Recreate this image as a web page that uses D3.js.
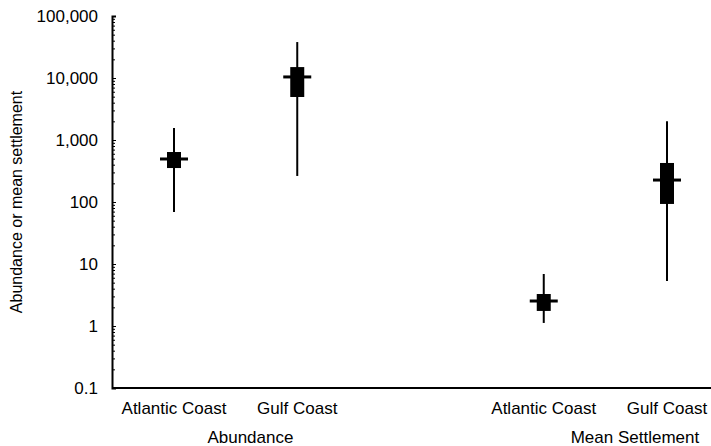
<!DOCTYPE html>
<html>
<head>
<meta charset="utf-8">
<script src="https://cdn.jsdelivr.net/npm/d3@7"></script>
<style>
  body { margin: 0; background: white; }
  text { font-family: "Liberation Sans", Arial, sans-serif; fill: black; }
</style>
</head>
<body>
<div id="chart"></div>
<script>
// Data
const slots = ["abund-atl", "abund-gulf", "gap", "settle-atl", "settle-gulf"];
const categories = ["Atlantic Coast", "Gulf Coast", "Atlantic Coast", "Gulf Coast"];
const categorySlots = ["abund-atl", "abund-gulf", "settle-atl", "settle-gulf"];
const groupNames = ["Abundance", "Mean Settlement"];
const lowValues = [69, 263, 1.12, 5.3];
const q1Values = [353, 4940, 1.75, 93];
const medianValues = [494, 10400, 2.53, 226];
const q3Values = [640, 15000, 3.28, 426];
const highValues = [1560, 38000, 6.9, 2000];
const tickValues = [0.1, 1, 10, 100, 1000, 10000, 100000];

const width = 711;
const height = 446;
const margin = { top: 16, right: 0, bottom: 58, left: 112 };

const svg = d3.select("#chart")
    .append("svg")
    .attr("width", width)
    .attr("height", height);

// Scales
const x = d3.scalePoint()
    .domain(slots)
    .range([174, 667]);

const y = d3.scaleLog()
    .domain([0.1, 100000])
    .range([height - margin.bottom, margin.top]);

const fmt = d3.format(",");

// Y axis: major + minor ticks pointing inwards
const minorTicks = [];
tickValues.slice(0, -1).forEach(t => {
    for (let k = 2; k <= 9; k++) minorTicks.push(t * k);
});

const yAxis = svg.append("g")
    .attr("transform", `translate(${margin.left},0)`)
    .call(d3.axisLeft(y)
        .tickValues(tickValues)
        .tickFormat(d => d < 1 ? d : fmt(d))
        .tickSize(-4)
        .tickPadding(14));
yAxis.select(".domain").attr("stroke-width", 2);
yAxis.selectAll("text")
    .style("font-size", "17px")
    .style("font-family", "'Liberation Sans', Arial, sans-serif");

svg.append("g")
    .attr("transform", `translate(${margin.left},0)`)
    .call(d3.axisLeft(y).tickValues(minorTicks).tickFormat("").tickSize(-3))
    .select(".domain").remove();

// X axis line
svg.append("line")
    .attr("x1", margin.left)
    .attr("x2", width)
    .attr("y1", y(0.1))
    .attr("y2", y(0.1))
    .attr("stroke", "black")
    .attr("stroke-width", 2);

// Category labels
svg.selectAll(".cat-label")
    .data(categories)
    .enter()
    .append("text")
    .attr("class", "cat-label")
    .attr("x", (d, i) => x(categorySlots[i]))
    .attr("y", 414)
    .attr("text-anchor", "middle")
    .style("font-size", "17px")
    .text(d => d);

// Group labels, sitting a little right of the pair's midpoint
const groupSlots = [["abund-atl", "abund-gulf"], ["settle-atl", "settle-gulf"]];
const groupShift = [0.62, 0.74];
svg.selectAll(".group-label")
    .data(groupNames)
    .enter()
    .append("text")
    .attr("class", "group-label")
    .attr("x", (d, i) => x(groupSlots[i][0]) + groupShift[i] * (x(groupSlots[i][1]) - x(groupSlots[i][0])))
    .attr("y", 443)
    .attr("text-anchor", "middle")
    .style("font-size", "17px")
    .text(d => d);

// Y axis title
svg.append("text")
    .attr("transform", `translate(22, ${y(100)}) rotate(-90)`)
    .attr("text-anchor", "middle")
    .style("font-size", "16px")
    .text("Abundance or mean settlement");

// Boxes
const boxes = categorySlots.map((s, i) => ({
    slot: s, low: lowValues[i], q1: q1Values[i], med: medianValues[i], q3: q3Values[i], high: highValues[i]
}));

const boxW = 14;
const medW = 28;

const g = svg.selectAll(".box")
    .data(boxes)
    .enter()
    .append("g")
    .attr("class", "box");

g.append("line")
    .attr("x1", d => x(d.slot))
    .attr("x2", d => x(d.slot))
    .attr("y1", d => y(d.high))
    .attr("y2", d => y(d.low))
    .attr("stroke", "black")
    .attr("stroke-width", 2);

g.append("rect")
    .attr("x", d => x(d.slot) - boxW / 2)
    .attr("y", d => y(d.q3))
    .attr("width", boxW)
    .attr("height", d => y(d.q1) - y(d.q3))
    .attr("fill", "black");

g.append("line")
    .attr("x1", d => x(d.slot) - medW / 2)
    .attr("x2", d => x(d.slot) + medW / 2)
    .attr("y1", d => y(d.med))
    .attr("y2", d => y(d.med))
    .attr("stroke", "black")
    .attr("stroke-width", 3);
</script>
</body>
</html>
